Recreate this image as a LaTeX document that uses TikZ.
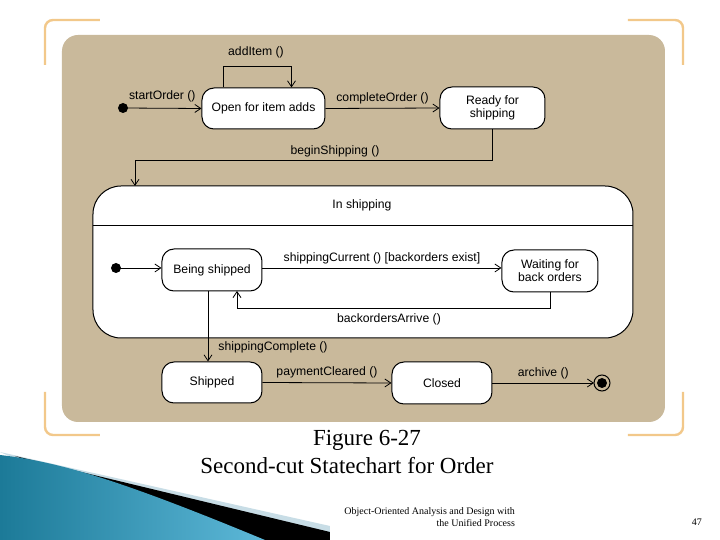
\documentclass[tikz,border=0pt]{standalone}
\usepackage{fontspec}
\setmainfont{Liberation Serif}
\newfontfamily\dsans{Liberation Sans}
\usetikzlibrary{arrows.meta}
\definecolor{tan}{HTML}{C9B99B}
\definecolor{brk}{HTML}{F2C88A}
\definecolor{bluA}{HTML}{1C7A98}
\definecolor{bluB}{HTML}{5DB8D8}
\definecolor{paleb}{HTML}{C8DDE6}
\begin{document}
\begin{tikzpicture}[x=0.5pt,y=-0.5pt,
  st/.style={draw=black,fill=white,rounded corners=6pt,line width=0.5pt,font=\dsans\fontsize{6.1}{6.6}\selectfont,align=center,inner sep=0pt},
  lbl/.style={font=\dsans\fontsize{6.1}{6.6}\selectfont,inner sep=1pt},
  tr/.style={-{Straight Barb[length=3pt,width=4pt]},line width=0.4pt},
  brkt/.style={draw=brk,line width=1.2pt,rounded corners=4pt}]
\useasboundingbox (0,0) rectangle (720,540);
\fill[white] (0,0) rectangle (720,540);
% corner brackets
\draw[brkt] (100,20) -- (45,20) -- (45,65);
\draw[brkt] (628,20) -- (683,20) -- (683,65);
\draw[brkt] (45,392) -- (45,435) -- (100,435);
\draw[brkt] (683,392) -- (683,435) -- (628,435);
% background
\fill[tan,rounded corners=8pt] (62,35) rectangle (665,422);
% decoration
\fill[paleb] (0,452) -- (330,526) -- (330,540) -- (200,540) -- cycle;
\fill[black] (15,456) -- (330,532) -- (330,540) -- (240,540) -- cycle;
\shade[left color=bluA,right color=bluB] (0,455) .. controls (60,462) and (120,480) .. (265,540) -- (0,540) -- cycle;
% states
\fill (123,108) circle (5);
\coordinate (i1) at (123,108);
\node[st,minimum width=61.5pt,minimum height=20.5pt] (open) at (263.5,108.5) {Open for item adds};
\node[st,minimum width=52.5pt,minimum height=21pt] (ready) at (492.5,108) {Ready for\\shipping};
\draw[st,fill=white,rounded corners=14pt] (93,186) rectangle (633,338);
\coordinate (inS) at (135,186);
\draw[line width=0.5pt] (93,226) -- (633,226);
\node[lbl] (ins) at (362,205) {In shipping};
\fill (116,268) circle (5);
\coordinate (i2) at (116,268);
\node[st,minimum width=50pt,minimum height=21pt] (being) at (212,270) {Being shipped};
\node[st,minimum width=48pt,minimum height=21pt] (wait) at (550,271) {Waiting for\\back orders};
\node[st,minimum width=50pt,minimum height=20.5pt] (ship) at (212,382.5) {Shipped};
\node[st,minimum width=50pt,minimum height=21pt] (closed) at (442,383) {Closed};
\coordinate (fin) at (602,383);
\fill (fin) circle (5);
\draw[line width=0.5pt] (fin) circle (8);
% transitions
\draw[tr] (i1) -- (open.west) node[lbl,midway,above=2pt] {startOrder ()};
\draw[tr] ([xshift=-20pt]open.north) -- ++(0,-21) -| ([xshift=14pt]open.north);
\node[lbl] at (256,52) {addItem ()};
\draw[tr] (open.east) -- (ready.west) node[lbl,midway,above=1pt] {completeOrder ()};
\draw[tr] (ready.south) |- (135,160) -- (inS);
\node[lbl] at (335,151) {beginShipping ()};
\draw[tr] (i2) -- (being.west |- i2);
\draw[tr] (being.east |- 0,268) -- (wait.west |- 0,268) node[lbl,midway,above=1pt] {shippingCurrent () [backorders exist]};
\draw[tr] (wait.south) |- (237,308) -- (237,291);
\node[lbl] at (389,319) {backordersArrive ()};
\draw[tr] ([xshift=-2pt]being.south) -- ([xshift=-2pt]ship.north);
\node[lbl] at (273,347) {shippingComplete ()};
\draw[tr] (ship.east) -- (closed.west) node[lbl,midway,above=1pt] {paymentCleared ()};
\draw[tr] (closed.east) -- ([xshift=-4pt]fin) node[lbl,midway,above=1pt] {archive ()};
% captions
\node[font=\fontsize{11.5}{13}\selectfont] (c1) at (367,440) {Figure 6-27};
\node[font=\fontsize{11.5}{13}\selectfont] (c2) at (347,466) {Second-cut Statechart for Order};
\node[font=\fontsize{5}{6}\selectfont,align=right,anchor=east] (ft) at (522,517) {Object-Oriented Analysis and Design with\\the Unified Process};
\node[font=\fontsize{5}{6}\selectfont] (pg) at (697,522) {47};
\end{tikzpicture}
\end{document}
